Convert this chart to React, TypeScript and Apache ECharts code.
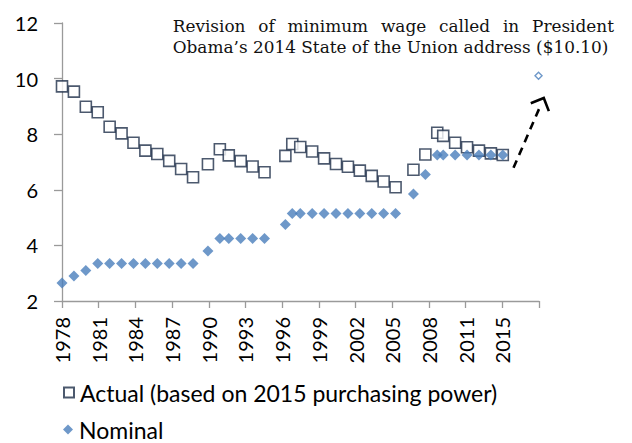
import React, { useEffect, useRef } from "react";
import * as echarts from "echarts";

// ---- data ----
const years = [
  1978, 1979, 1980, 1981, 1982, 1983, 1984, 1985, 1986, 1987, 1988, 1989,
  1990.25, 1991.25, 1992, 1993, 1994, 1995, 1996.75, 1997.33, 1998, 1999,
  2000, 2001, 2002, 2003, 2004, 2005, 2006, 2007.5, 2008.5, 2009.5, 2010,
  2011, 2012, 2013, 2014, 2015,
];
const actual = [
  9.72, 9.53, 8.99, 8.79, 8.27, 8.03, 7.69, 7.41, 7.29, 7.04, 6.75, 6.45,
  6.92, 7.46, 7.24, 7.03, 6.84, 6.63, 7.22, 7.65, 7.54, 7.38,
  7.13, 6.93, 6.83, 6.69, 6.5, 6.3, 6.09, 6.72, 7.27, 8.05, 7.94,
  7.69, 7.53, 7.41, 7.31, 7.25,
];
const nominal = [
  2.65, 2.9, 3.1, 3.35, 3.35, 3.35, 3.35, 3.35, 3.35, 3.35, 3.35, 3.35,
  3.8, 4.25, 4.25, 4.25, 4.25, 4.25, 4.75, 5.15, 5.15, 5.15,
  5.15, 5.15, 5.15, 5.15, 5.15, 5.15, 5.15, 5.85, 6.55, 7.25, 7.25,
  7.25, 7.25, 7.25, 7.25, 7.25,
];
const proposedYear = [2018];
const proposedValue = [10.1];

const xMin = 1978;
const xStep = 3.08;
const xTickLabels = [
  "1978", "1981", "1984", "1987", "1990", "1993", "1996", "1999",
  "2002", "2005", "2008", "2011", "2015", "",
];
const yTicks = { min: 2, max: 12, interval: 2 };

const seriesNames = ["Actual (based on 2015 purchasing power)", "Nominal"];
const noteLines = [
  "Revision of minimum wage called in President",
  "Obama\u2019s 2014 State of the Union address ($10.10)",
];
// arrow annotation, in data coordinates
const arrowFrom = [2015.9, 6.79];
const arrowTo = [2018.44, 9.3];

const SANS = "Lato";
const SERIF = "DejaVu Serif";

function measure(text: string, font: string): number {
  const c = document.createElement("canvas").getContext("2d")!;
  c.font = font;
  return c.measureText(text).width;
}

export default function App() {
  const ref = useRef<HTMLDivElement>(null);
  useEffect(() => {
    if (!ref.current) return;
    const chart = echarts.init(ref.current, undefined, { renderer: "svg" });
    const xMax = xMin + xStep * (xTickLabels.length - 1);
    const legendBase = {
      orient: "horizontal",
      left: 63,
      padding: 0,
      itemWidth: 10,
      itemHeight: 10,
      textStyle: { color: "#000", fontFamily: SANS, fontSize: 23, lineHeight: 23, padding: [0, 0, 0, 1] },
    };
    chart.setOption({
      animation: false,
      backgroundColor: "#fff",
      grid: { left: 62, right: 93, top: 23, bottom: 142, containLabel: false },
      xAxis: {
        type: "value",
        min: xMin,
        max: xMax,
        interval: xStep,
        splitLine: { show: false },
        axisLine: { show: true, onZero: false, lineStyle: { color: "#9a9a9a", width: 1.3 } },
        axisTick: { show: true, length: 7, lineStyle: { color: "#9a9a9a", width: 1.3 } },
        axisLabel: {
          rotate: 90,
          margin: 16,
          color: "#000",
          fontFamily: SANS,
          fontSize: 20,
          showMaxLabel: true,
          showMinLabel: true,
          formatter: (v: number) => {
            const i = Math.round((v - xMin) / xStep);
            return xTickLabels[i] ?? "";
          },
        },
      },
      yAxis: {
        type: "value",
        min: yTicks.min,
        max: yTicks.max,
        interval: yTicks.interval,
        splitLine: { show: false },
        axisLine: { show: true, lineStyle: { color: "#9a9a9a", width: 1.3 } },
        axisTick: { show: true, length: 8, lineStyle: { color: "#9a9a9a", width: 1.3 } },
        axisLabel: { color: "#000", fontFamily: SANS, fontSize: 20, margin: 24 },
      },
      legend: [
        { ...legendBase, top: 381, data: [seriesNames[0]] },
        { ...legendBase, top: 418, data: [seriesNames[1]] },
      ],
      series: [
        {
          name: seriesNames[0],
          type: "scatter",
          symbol: "rect",
          symbolSize: 11,
          itemStyle: { color: "#fff", borderColor: "#1f2f4a", borderWidth: 1.6 },
          data: years.map((y, i) => [y, actual[i]]),
          z: 2,
        },
        {
          name: seriesNames[1],
          type: "scatter",
          symbol: "diamond",
          symbolSize: 11,
          itemStyle: { color: "#4a7ebb" },
          data: years.map((y, i) => [y, nominal[i]]),
          z: 3,
        },
        {
          name: "Proposed",
          type: "scatter",
          symbol: "diamond",
          symbolSize: 7,
          clip: false,
          itemStyle: { color: "#fff", borderColor: "#4a7ebb", borderWidth: 1.4 },
          data: proposedYear.map((y, i) => [y, proposedValue[i]]),
          z: 3,
        },
      ],
    });

    // annotation text (justified) + arrow
    const x0 = 172.7;
    const x1 = 614;
    const w2 = 437;
    const unit = measure(noteLines[1], `100px "${SERIF}"`) / 100;
    const fs = Math.round((w2 / unit) * 10) / 10;
    const font = `${fs}px "${SERIF}"`;
    const words = noteLines[0].split(" ");
    const ww = words.map((w) => measure(w, font));
    const gap = (x1 - x0 - ww.reduce((a, b) => a + b, 0)) / (words.length - 1);
    const graphics: any[] = [];
    let cx = x0;
    words.forEach((w, i) => {
      graphics.push({
        type: "text",
        x: cx,
        y: 25.7,
        style: { text: w, font, fill: "#111", textVerticalAlign: "middle", textAlign: "left" },
      });
      cx += ww[i] + gap;
    });
    graphics.push({
      type: "text",
      x: x0,
      y: 46.7,
      style: { text: noteLines[1], font, fill: "#111", textVerticalAlign: "middle", textAlign: "left" },
    });
    const p0 = chart.convertToPixel({ gridIndex: 0 }, arrowFrom) as number[];
    const p1 = chart.convertToPixel({ gridIndex: 0 }, arrowTo) as number[];
    const dx = p0[0] - p1[0];
    const dy = p0[1] - p1[1];
    const len = Math.hypot(dx, dy);
    const bx = dx / len;
    const by = dy / len;
    const L = 14;
    const rot = (a: number) => [
      p1[0] + L * (bx * Math.cos(a) - by * Math.sin(a)),
      p1[1] + L * (bx * Math.sin(a) + by * Math.cos(a)),
    ];
    const left = rot(-0.78);
    const right = rot(0.78);
    graphics.push({
      type: "line",
      shape: { x1: p0[0], y1: p0[1], x2: p1[0] + bx * 9, y2: p1[1] + by * 9 },
      style: { stroke: "#000", lineWidth: 2.6, lineDash: [8, 6] },
    });
    graphics.push({
      type: "polyline",
      shape: { points: [left, p1, right] },
      style: { stroke: "#000", lineWidth: 2.6, fill: null },
    });
    chart.setOption({ graphic: graphics });

    return () => chart.dispose();
  }, []);
  return (
    <div
      ref={ref}
      style={{ position: "fixed", left: 0, top: 0, width: 632, height: 443 }}
    />
  );
}
